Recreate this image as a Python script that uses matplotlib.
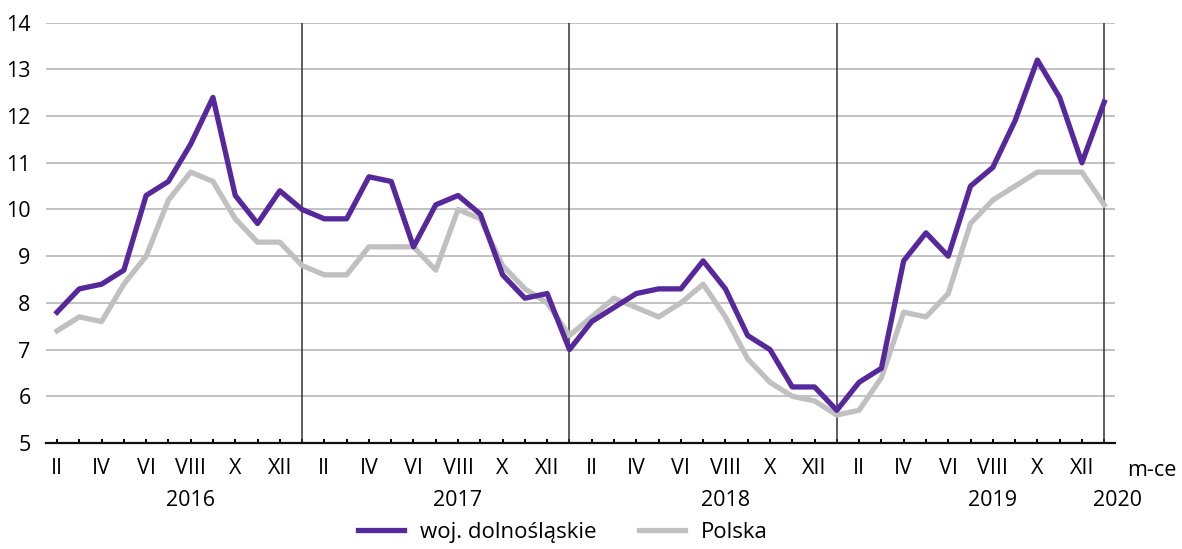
import matplotlib
matplotlib.use("Agg")
from matplotlib import pyplot as plt
import numpy as np

plt.rcParams['font.family'] = ['Open Sans', 'DejaVu Sans']

# miesiace II 2016 - I 2020
rzymskie = ['I', 'II', 'III', 'IV', 'V', 'VI', 'VII', 'VIII', 'IX', 'X', 'XI', 'XII']
miesiace = [(1 + i) % 12 for i in range(48)]   # indeks miesiaca, start od lutego
lata = ['2016', '2017', '2018', '2019', '2020']

dolnoslaskie = [7.8, 8.3, 8.4, 8.7, 10.3, 10.6, 11.4, 12.4, 10.3, 9.7, 10.4,
                10.0, 9.8, 9.8, 10.7, 10.6, 9.2, 10.1, 10.3, 9.9, 8.6, 8.1, 8.2,
                7.0, 7.6, 7.9, 8.2, 8.3, 8.3, 8.9, 8.3, 7.3, 7.0, 6.2, 6.2,
                5.7, 6.3, 6.6, 8.9, 9.5, 9.0, 10.5, 10.9, 11.9, 13.2, 12.4, 11.0,
                12.3]
polska = [7.4, 7.7, 7.6, 8.4, 9.0, 10.2, 10.8, 10.6, 9.8, 9.3, 9.3,
          8.8, 8.6, 8.6, 9.2, 9.2, 9.2, 8.7, 10.0, 9.8, 8.8, 8.3, 8.0,
          7.3, 7.7, 8.1, 7.9, 7.7, 8.0, 8.4, 7.7, 6.8, 6.3, 6.0, 5.9,
          5.6, 5.7, 6.4, 7.8, 7.7, 8.2, 9.7, 10.2, 10.5, 10.8, 10.8, 10.8,
          10.1]

x = np.arange(len(dolnoslaskie))
fs = 15.5

fig = plt.figure(figsize=(11.82, 5.49), dpi=100)
ax = fig.add_axes([0.0388, 0.1931, 0.9048, 0.7656])

ax.set_ylim(5, 14)
ax.set_xlim(-0.5, 47.5)
ax.set_yticks(range(5, 15))
ax.grid(axis='y', color='#bdbdbd', linewidth=1.3)
ax.set_axisbelow(True)

# granice lat
for i, m in enumerate(miesiace):
    if m == 0:
        ax.axvline(i, color='#333333', linewidth=1.1, zorder=1)

ax.plot(x, polska, color='#c0c0c0', linewidth=3.8, label='Polska', zorder=3)
ax.plot(x, dolnoslaskie, color='#56289c', linewidth=3.8, label='woj. dolnośląskie', zorder=4)

for s in ['top', 'right', 'left']:
    ax.spines[s].set_visible(False)
ax.spines['bottom'].set_linewidth(1.6)
ax.spines['bottom'].set_color('#111111')

etykiety = [rzymskie[m] if m % 2 == 1 else '' for m in miesiace]
ax.set_xticks(x)
ax.set_xticklabels(etykiety)
ax.tick_params(axis='x', direction='in', length=3, width=1.4, pad=11, labelsize=fs)
ax.tick_params(axis='y', length=0, pad=11, labelsize=fs)

# podpisy lat pod miesiacami
tr = ax.get_xaxis_transform()
poz_lat = [6, 18, 30, 42, 47.6]
for p, rok in zip(poz_lat, lata):
    ax.text(p, -0.137, rok, transform=tr, ha='center', va='center', fontsize=fs)
ax.text(49.15, -0.065, 'm-ce', transform=tr, ha='center', va='center', fontsize=fs)

h, l = ax.get_legend_handles_labels()
fig.legend(h[::-1], l[::-1], loc='center', bbox_to_anchor=(0.476, 0.03), ncol=2,
           frameon=False, fontsize=16, handlelength=2.1, handletextpad=0.7,
           columnspacing=1.9, borderpad=0.1)

fig.savefig('out.png', dpi=100)
